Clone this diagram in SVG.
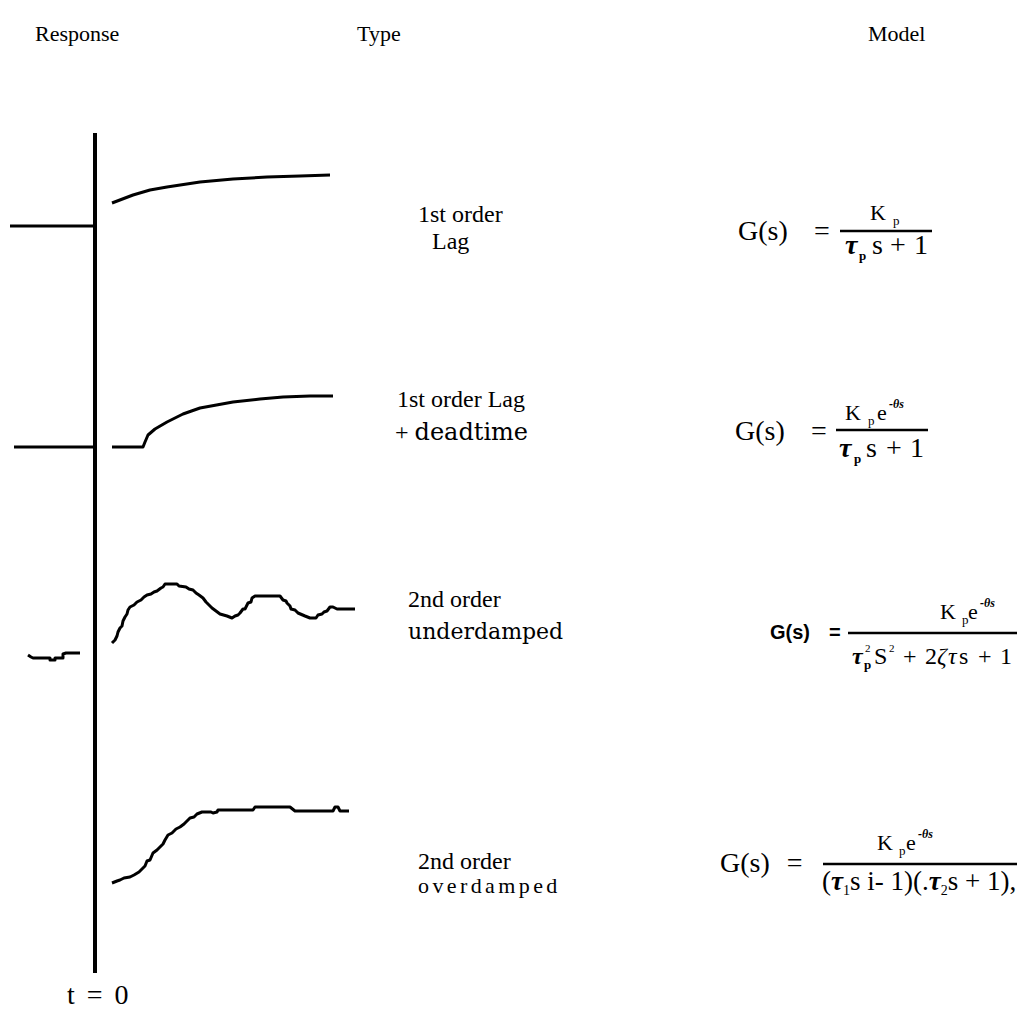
<svg xmlns="http://www.w3.org/2000/svg" width="1021" height="1019" viewBox="0 0 1021 1019">
<style>
.t{font-family:"Liberation Serif","Times New Roman",serif;fill:#000}
.d{font-family:"DejaVu Serif","Liberation Serif",serif;fill:#000}
.s{font-family:"Liberation Sans",Arial,sans-serif;font-weight:bold;fill:#000}
.h{font-size:22px}
.lb{font-size:24px}
.f{font-size:28px}
.n{font-size:22px}
.sb{font-size:13px}
.sp{font-size:12px;font-style:italic;font-weight:bold}
.tau{font-style:italic;font-weight:bold}
.ln{stroke:#000;fill:none;stroke-linejoin:round;stroke-linecap:butt}
.cv{stroke:#000;fill:none;stroke-width:3;stroke-linejoin:round}
</style>
<rect width="1021" height="1019" fill="#fff"/>
<g id="headers">
<text class="t h" x="35" y="41">Response</text>
<text class="t h" x="357" y="41">Type</text>
<text class="t h" x="868" y="41">Model</text>
</g>
<g id="connectors">
<line id="axis" class="ln" x1="95" y1="133" x2="95" y2="973" stroke-width="4"/>
<line class="ln" x1="10" y1="226" x2="93" y2="226" stroke-width="3"/>
<line class="ln" x1="14" y1="447" x2="93" y2="447" stroke-width="3"/>
<polyline class="cv" stroke-width="2.5" points="28,655 31,657 33,658 50,658 50,660 55,660 55,658 63,658 63,654 66,653 80,653"/>
</g>
<g id="response-1">
<polyline class="cv" points="112,203 133,195 150,190 167,187 200,182 233,179 267,177 300,176 330,175"/>
</g>
<g id="response-2">
<polyline class="cv" points="112,447 143,447 145,442 148,435 155,429 167,422 183,414 200,408 233,402 260,399 283,397 310,396 333,396"/>
</g>
<g id="response-3">
<polyline class="cv" points="112,643 115,640 117,636 118,632 120,628 122,626 123,621 125,617 127,614 128,610 130,607 134,605 137,602 141,600 144,597 147,595 151,594 154,592 157,591 161,588 163,587 165,584 177,584 179,586 186,587 189,589 193,590 196,593 199,595 203,598 206,602 209,605 212,608 216,611 220,614 227,616 232,618 235,616 238,615 240,613 243,609 245,609 248,603 251,602 252,598 255,596 280,596 283,600 286,601 287,603 290,606 291,609 295,610 298,613 305,616 310,618 316,618 318,615 322,614 324,612 327,611 330,607 333,607 337,609 355,609"/>
</g>
<g id="response-4">
<polyline class="cv" points="112,883 117,881 120,880 124,878 130,877 134,875 139,872 143,868 145,866 147,861 150,860 153,853 157,850 160,847 163,844 165,840 168,835 172,833 176,829 180,827 184,824 187,821 190,818 194,817 197,814 202,812 211,812 213,813 217,812 218,810 253,810 255,807 290,807 295,811 333,811 335,807 338,807 340,811 349,811"/>
</g>
<g id="t0">
<text class="t" font-size="28" x="67" y="1004" word-spacing="5">t = 0</text>
</g>
<g id="type-1">
<text class="t lb" x="418" y="222">1st order</text>
<text class="t lb" x="432" y="249">Lag</text>
</g>
<g id="type-2">
<text class="t lb" x="397" y="407">1st order Lag</text>
<text class="t lb" x="395" y="440">+ <tspan class="d" font-size="24">deadtime</tspan></text>
</g>
<g id="type-3">
<text class="t lb" x="408" y="607">2nd order</text>
<text class="d" font-size="22" x="408" y="639">underdamped</text>
</g>
<g id="type-4">
<text class="t lb" x="418" y="869">2nd order</text>
<text class="t" font-size="22" x="418" y="893" letter-spacing="3.4">overdamped</text>
</g>
<g id="model-1">
<text class="t f" x="738" y="240">G(s)</text>
<text class="t f" x="814" y="240">=</text>
<line class="ln" x1="840" y1="231" x2="932" y2="231" stroke-width="2.5"/>
<text class="t n" x="870" y="220">K</text>
<text class="t sb" x="893" y="225">p</text>
<text class="t f tau" x="845" y="254">τ</text>
<text class="t sb" font-weight="bold" x="859" y="260">p</text>
<text class="t f" x="872" y="254">s</text>
<text class="t f" x="890" y="254">+</text>
<text class="t f" x="914" y="254">1</text>
</g>
<g id="model-2">
<text class="t f" x="735" y="440">G(s)</text>
<text class="t f" x="811" y="440">=</text>
<line class="ln" x1="836" y1="430" x2="928" y2="430" stroke-width="2.5"/>
<text class="t n" x="845" y="420">K</text>
<text class="t sb" x="868" y="425">p</text>
<text class="t n" x="877" y="420">e</text>
<text class="t sp" x="889" y="408">-θs</text>
<text class="t f tau" x="839" y="457">τ</text>
<text class="t sb" font-weight="bold" x="854" y="463">p</text>
<text class="t f" x="866" y="457">s</text>
<text class="t f" x="886" y="457">+</text>
<text class="t f" x="910" y="457">1</text>
</g>
<g id="model-3">
<text class="s" font-size="20" x="770" y="639">G(s)</text>
<text class="s" font-size="20" x="829" y="639">=</text>
<line class="ln" x1="848" y1="633" x2="1017" y2="633" stroke-width="2.5"/>
<text class="t n" x="940" y="619">K</text>
<text class="t sb" x="962" y="624">p</text>
<text class="t n" x="968" y="619">e</text>
<text class="t sp" x="980" y="607">-θs</text>
<text class="t tau" font-size="24" x="852" y="664">τ</text>
<text class="t" font-size="11" x="865" y="652">2</text>
<text class="t sb" font-weight="bold" x="864" y="669">p</text>
<text class="t" font-size="24" x="874" y="664">S</text>
<text class="t" font-size="11" x="889" y="652">2</text>
<text class="t" font-size="24" x="903" y="664">+</text>
<text class="t" font-size="24" x="925" y="664">2</text>
<text class="t" font-size="24" font-style="italic" x="937" y="664">ζ</text>
<text class="t" font-size="24" font-style="italic" x="948" y="664">τ</text>
<text class="t" font-size="24" x="959" y="664">s</text>
<text class="t" font-size="24" x="978" y="664">+</text>
<text class="t" font-size="24" x="1000" y="664">1</text>
</g>
<g id="model-4">
<text class="t f" x="720" y="872" word-spacing="10">G(s) =</text>
<line class="ln" x1="823" y1="864" x2="1017" y2="864" stroke-width="2.5"/>
<text class="t n" x="877" y="850">K</text>
<text class="t sb" x="899" y="855">p</text>
<text class="t n" x="906" y="850">e</text>
<text class="t sp" x="918" y="838">-θs</text>
<text class="t" font-size="27" x="822" y="890">(<tspan class="tau">τ</tspan><tspan font-size="14" dy="5">1</tspan><tspan dy="-5">s i- 1)(.</tspan><tspan class="tau">τ</tspan><tspan font-size="14" dy="5">2</tspan><tspan dy="-5">s + 1),</tspan></text>
</g>
</svg>
